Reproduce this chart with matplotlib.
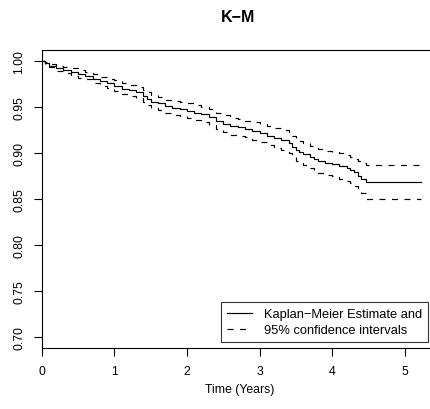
import numpy as np
import matplotlib
matplotlib.use("Agg")
import matplotlib.pyplot as plt

# Kaplan-Meier estimate (step function)
time_years = [0, 0.05, 0.1, 0.2, 0.3, 0.4, 0.5, 0.6, 0.7, 0.8, 0.9, 1.0,
              1.1, 1.2, 1.3, 1.4, 1.45, 1.5, 1.6, 1.7, 1.8, 1.9, 2.0,
              2.1, 2.2, 2.3, 2.4, 2.5, 2.6, 2.7, 2.8, 2.9, 3.0,
              3.1, 3.2, 3.3, 3.4, 3.45, 3.5, 3.55, 3.6, 3.7, 3.75, 3.8, 3.9, 4.0,
              4.1, 4.2, 4.25, 4.3, 4.35, 4.4, 4.46, 5.22]
surv = [1.000, .998, .995, .992, .990, .988, .986, .984, .981, .978, .976, .973,
        .970, .968, .966, .962, .959, .956, .954, .951, .949, .948, .946,
        .944, .942, .939, .935, .932, .929, .928, .926, .924, .922,
        .919, .916, .914, .911, .907, .903, .901, .899, .896, .894, .891, .889, .888,
        .886, .884, .882, .879, .875, .872, .868, .868]
upper = [1.000, .999, .997, .995, .993, .992, .990, .988, .986, .983, .981, .979,
         .976, .974, .972, .969, .966, .963, .961, .958, .957, .956, .954,
         .952, .950, .948, .944, .941, .938, .937, .935, .934, .932,
         .929, .927, .925, .922, .919, .915, .913, .911, .908, .906, .904, .902, .901,
         .900, .898, .896, .894, .891, .889, .8865, .8865]
lower = [1.000, .997, .993, .989, .987, .984, .982, .980, .976, .973, .971, .967,
         .964, .962, .960, .955, .952, .949, .947, .944, .941, .940, .938,
         .936, .934, .930, .926, .923, .920, .919, .917, .914, .912,
         .909, .905, .903, .900, .896, .891, .889, .887, .884, .881, .878, .876, .875,
         .872, .870, .867, .864, .860, .856, .850, .850]

x_ticks = [0, 1, 2, 3, 4, 5]
y_ticks = [0.70, 0.75, 0.80, 0.85, 0.90, 0.95, 1.00]
legend_labels = ["Kaplan\u2212Meier Estimate and", "95% confidence intervals"]

plt.rcParams["font.family"] = ["Liberation Sans", "DejaVu Sans"]
plt.rcParams["lines.scale_dashes"] = False

fig = plt.figure(figsize=(4.3, 4.1), dpi=100)
W, H = 430, 410
ax = fig.add_axes([41.7 / W, (H - 349) / H, (435 - 41.7) / W, (349 - 51) / H])

lw = 0.85
dash = (0, (4.3, 4.7))
ax.plot(time_years, surv, drawstyle="steps-post", color="black", lw=lw,
        label=legend_labels[0])
ax.plot(time_years, upper, drawstyle="steps-post", color="black", lw=lw,
        linestyle=dash, label=legend_labels[1])
ax.plot(time_years, lower, drawstyle="steps-post", color="black", lw=lw,
        linestyle=dash)

ax.set_xlim(0, 5.417)
ax.set_ylim(0.688, 1.012)

ax.set_xticks(x_ticks)
ax.set_xticklabels([str(t) for t in x_ticks])
ax.set_yticks(y_ticks)
ax.set_yticklabels(["%.2f" % v for v in y_ticks], rotation=90, va="center")
ax.tick_params(direction="out", length=6, width=0.8, labelsize=8.8,
               colors="black")
ax.tick_params(axis="x", pad=6)
ax.tick_params(axis="y", pad=6)

for s in ax.spines.values():
    s.set_linewidth(0.8)
    s.set_color("black")

fig.text(238.5 / W, 1 - 18 / H, "K\u2212M", ha="center", va="center",
         fontsize=11.5, fontweight="bold")
fig.text(240 / W, 1 - 390 / H, "Time (Years)", ha="center", va="center",
         fontsize=8.8)

leg = ax.legend(loc="lower right", bbox_to_anchor=(428 / W, (H - 343) / H),
                bbox_transform=fig.transFigure, fontsize=9.3, frameon=True,
                fancybox=False, edgecolor="black", handlelength=2.0,
                handletextpad=0.9, borderpad=0.45, labelspacing=0.3,
                borderaxespad=0)
leg.get_frame().set_linewidth(0.8)

fig.savefig("out.png", dpi=100)
